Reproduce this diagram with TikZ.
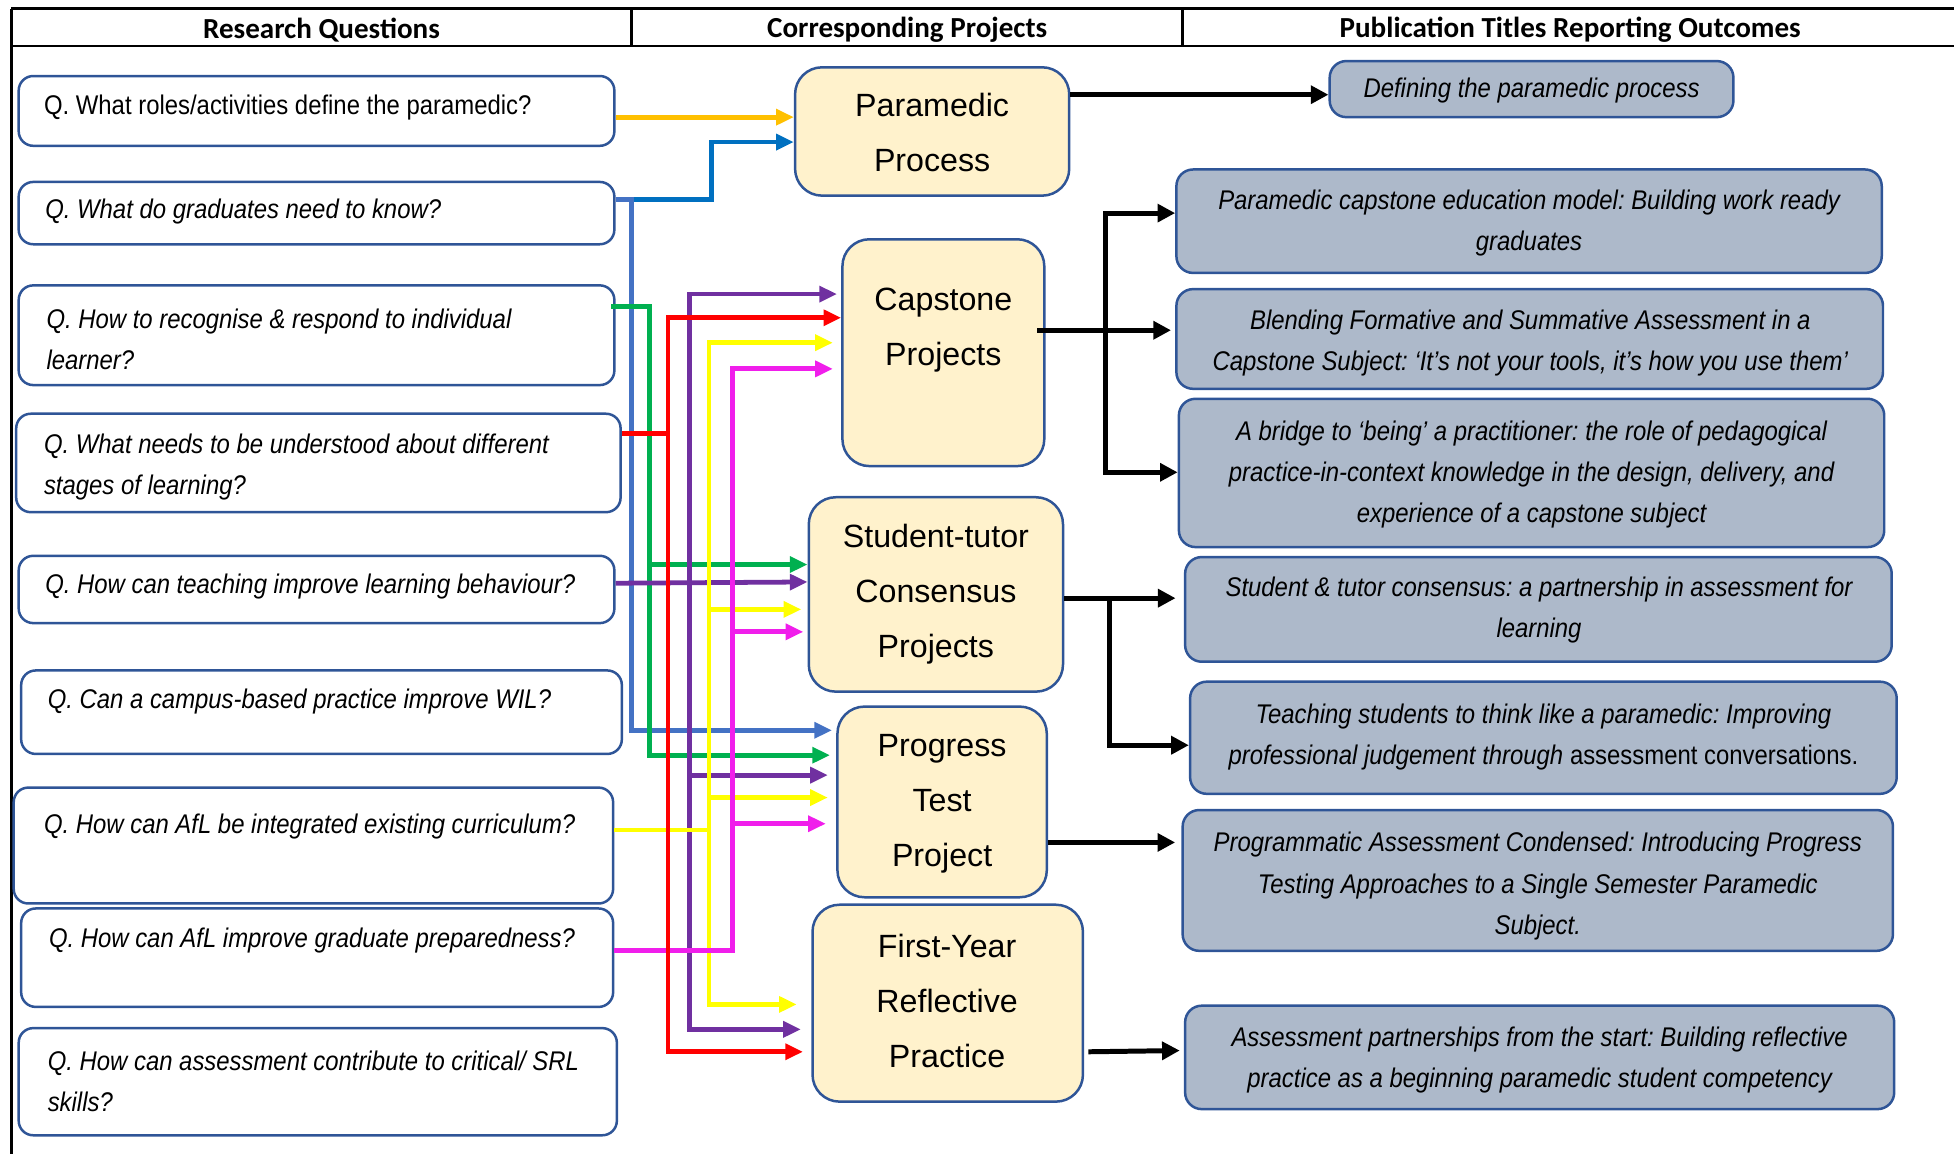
\documentclass[tikz,border=0pt]{standalone}
\usepackage{fontspec}
\setmainfont{Liberation Sans}
\newfontfamily\narrowsans[FakeStretch=0.885]{Liberation Sans}
\newfontfamily\headfamily{Carlito}
\usetikzlibrary{arrows.meta,fit}
\frenchspacing

\definecolor{boxblue}{HTML}{2F5597}
\definecolor{projfill}{HTML}{FFF2CC}
\definecolor{pubfill}{HTML}{ADB9CA}
\definecolor{orangeC}{HTML}{FFC000}
\definecolor{dblueC}{HTML}{0070C0}
\definecolor{lblueC}{HTML}{4472C4}
\definecolor{greenC}{HTML}{00B050}
\definecolor{redC}{HTML}{FF0000}
\definecolor{purpleC}{HTML}{7030A0}
\definecolor{yellowC}{HTML}{FFFF00}
\definecolor{magentaC}{HTML}{F01EEB}

\newcommand\qfnt{\narrowsans\fontsize{13pt}{19.8pt}\selectfont}
\newcommand\pfnt{\fontsize{15.5pt}{26.4pt}\selectfont}
\newcommand\hfnt{\headfamily\bfseries\fontsize{14pt}{16pt}\selectfont}

\begin{document}
\begin{tikzpicture}[x=0.6pt,y=-0.6pt,
  qbox/.style={draw=boxblue, line width=1.2pt, rounded corners=7pt, fill=white, inner sep=0pt},
  pbox/.style={draw=boxblue, line width=1.2pt, rounded corners=13pt, fill=projfill, inner sep=0pt},
  rbox/.style={draw=boxblue, line width=1.2pt, rounded corners=8pt, fill=pubfill, inner sep=0pt},
  qtext/.style={font=\qfnt\itshape, align=left, anchor=west, inner sep=0pt},
  ptext/.style={font=\pfnt, align=center, inner sep=0pt},
  rtext/.style={font=\qfnt\itshape, align=center, inner sep=0pt},
  colhead/.style={font=\hfnt, inner sep=0pt},
  qlink/.style={line width=2.3pt, -{Triangle[length=8.5pt,width=7.5pt]}},
  wire/.style={line width=2.3pt},
  pubarrow/.style={line width=2.4pt, black, -{Triangle[length=8.5pt,width=8.5pt]}},
  grid/.style={line width=1.3pt, black},
]
\useasboundingbox (0,0) rectangle (1568,926);

% table frame and column headings
\draw[grid] (9,7) -- (1568,7);
\draw[grid] (9,37) -- (1568,37);
\draw[grid] (9,7) -- (9,926);
\draw[grid] (507,7) -- (507,37);
\draw[grid] (949,7) -- (949,37);
\node[colhead] (h1) at (258,24) {Research Questions};
\node[colhead] (h2) at (728,24) {Corresponding Projects};
\node[colhead] (h3) at (1260,24) {Publication Titles Reporting Outcomes};

% research questions
\node[qbox, fit={(15,61)(493,117)}] (q1) {};
\node[qbox, fit={(15,146)(493,196)}] (q2) {};
\node[qbox, fit={(15,229)(493,309)}] (q3) {};
\node[qbox, fit={(13,332)(498,411)}] (q4) {};
\node[qbox, fit={(15,446)(493,500)}] (q5) {};
\node[qbox, fit={(17,538)(499,605)}] (q6) {};
\node[qbox, fit={(11,632)(492,725)}] (q7) {};
\node[qbox, fit={(17,729)(492,808)}] (q8) {};
\node[qbox, fit={(15,825)(495,911)}] (q9) {};

\node[qtext, font=\qfnt] (q1t) at (35,86) {Q. What roles/activities define the paramedic?};
\node[qtext] (q2t) at (36,170) {Q. What do graduates need to know?};
\node[qtext] (q3t) at (37,272.5) {Q. How to recognise \& respond to individual\\learner?};
\node[qtext] (q4t) at (35,375) {Q. What needs to be understood about different\\stages of learning?};
\node[qtext] (q5t) at (36,471) {Q. How can teaching improve learning behaviour?};
\node[qtext] (q6t) at (38,563) {Q. Can a campus-based practice improve WIL?};
\node[qtext] (q7t) at (35,663) {Q. How can AfL be integrated existing curriculum?};
\node[qtext] (q8t) at (39,755) {Q. How can AfL improve graduate preparedness?};
\node[qtext] (q9t) at (38,867.5) {Q. How can assessment contribute to critical/ SRL\\skills?};

% projects
\node[pbox, fit={(638,54)(858,157)}] (p1) {};
\node[pbox, fit={(676,192)(838,374)}] (p2) {};
\node[pbox, fit={(649,399)(853,555)}] (p3) {};
\node[pbox, fit={(672,567)(840,720)}] (p4) {};
\node[pbox, fit={(652,726)(869,884)}] (p5) {};

\node[ptext] (p1t) at (748,106) {Paramedic\\Process};
\node[ptext] (p2t) at (757,265) {Capstone\\Projects};
\node[ptext] (p3t) at (751,477) {Student-tutor\\Consensus\\Projects};
\node[ptext] (p4t) at (756,645) {Progress\\Test\\Project};
\node[ptext] (p5t) at (760,803) {First-Year\\Reflective\\Practice};

% publications
\node[rbox, fit={(1067,49)(1391,94)}] (r1) {};
\node[rbox, fit={(944,136)(1510,219)}] (r2) {};
\node[rbox, fit={(944,232)(1511,312)}] (r3) {};
\node[rbox, fit={(946,320)(1512,439)}] (r4) {};
\node[rbox, fit={(951,447)(1518,531)}] (r5) {};
\node[rbox, fit={(955,547)(1522,637)}] (r6) {};
\node[rbox, fit={(949,650)(1519,763)}] (r7) {};
\node[rbox, fit={(951,807)(1520,890)}] (r8) {};

\node[rtext] (r1t) at (1229,73) {Defining the paramedic process};
\node[rtext] (r2t) at (1227,179) {Paramedic capstone education model: Building work ready\\graduates};
\node[rtext] (r3t) at (1228,275.5) {Blending Formative and Summative Assessment in a\\Capstone Subject: ‘It’s not your tools, it’s how you use them’};
\node[rtext] (r4t) at (1229,381) {A bridge to ‘being’ a practitioner: the role of pedagogical\\practice-in-context knowledge in the design, delivery, and\\experience of a capstone subject};
\node[rtext] (r5t) at (1235,489.5) {Student \& tutor consensus: a partnership in assessment for\\learning};
\node[rtext] (r6t) at (1238.5,591.5) {Teaching students to think like a paramedic: Improving\\professional judgement through {\upshape assessment conversations.}};
\node[rtext] (r7t) at (1234,711) {Programmatic Assessment Condensed: Introducing Progress\\Testing Approaches to a Single Semester Paramedic\\Subject.};
\node[rtext] (r8t) at (1235.5,850.5) {Assessment partnerships from the start: Building reflective\\practice as a beginning paramedic student competency};

% question-to-project links
\draw[qlink, orangeC] (q1.east |- 0,94) -- (p1.west |- 0,94);
\draw[qlink, dblueC] (q2.east |- 0,160) -- (571,160) -- (571,114) -- (p1.west |- 0,114);
\draw[qlink, lblueC] (q2.east |- 0,160) -- (507,160) -- (507,586) -- ([xshift=-2pt]p4.west |- 0,586);
\draw[qlink, greenC] ([xshift=-2pt]q3.east |- 0,246) -- (521,246) -- (521,606) -- ([xshift=-3pt]p4.west |- 0,606);
\draw[qlink, greenC] (521,453) -- (p3.west |- 0,453);
\draw[qlink, purpleC] (q5.east |- 0,468) -- (p3.west |- 0,467);
\draw[qlink, purpleC] (553,468) -- (553,236) -- ([xshift=-2pt]p2.west |- 0,236);
\draw[qlink, purpleC] (553,468) -- (553,826) -- ([xshift=-5pt]p5.west |- 0,826);
\draw[qlink, purpleC] (553,622) -- ([xshift=-4pt]p4.west |- 0,622);
\draw[wire, yellowC] (q7.east |- 0,666) -- (569,666);
\draw[qlink, yellowC] (569,666) -- (569,275) -- ([xshift=-4pt]p2.west |- 0,275);
\draw[qlink, yellowC] (569,666) -- (569,806) -- ([xshift=-7pt]p5.west |- 0,806);
\draw[qlink, yellowC] (569,489) -- ([xshift=-3pt]p3.west |- 0,489);
\draw[qlink, yellowC] (569,640) -- ([xshift=-4pt]p4.west |- 0,640);
\draw[qlink, magentaC] (q8.east |- 0,763) -- (588,763) -- (588,296) -- ([xshift=-4pt]p2.west |- 0,296);
\draw[qlink, magentaC] (588,507) -- ([xshift=-2pt]p3.west |- 0,507);
\draw[qlink, magentaC] (588,661) -- ([xshift=-5pt]p4.west |- 0,661);
\draw[qlink, redC] (q4.east |- 0,348) -- (536,348) -- (536,844) -- ([xshift=-4pt]p5.west |- 0,844);
\draw[qlink, redC] (536,348) -- (536,255) -- (p2.west |- 0,255);

% project-to-publication links
\draw[pubarrow] (p1.east |- 0,76) -- (r1.west |- 0,76);
\draw[pubarrow] ([xshift=-4pt]p2.east |- 0,265) -- ([xshift=-2pt]r3.west |- 0,265);
\draw[pubarrow] (887,265) -- (887,171) -- (r2.west |- 0,171);
\draw[pubarrow] (887,265) -- (887,379) -- (r4.west |- 0,379);
\draw[pubarrow] (p3.east |- 0,480) -- ([xshift=-4pt]r5.west |- 0,480);
\draw[pubarrow] (890,480) -- (890,598) -- (r6.west |- 0,598);
\draw[pubarrow] (p4.east |- 0,676) -- ([xshift=-3pt]r7.west |- 0,676);
\draw[pubarrow] ([xshift=2pt]p5.east |- 0,844) -- ([xshift=-2pt]r8.west |- 0,843);
\end{tikzpicture}
\end{document}
